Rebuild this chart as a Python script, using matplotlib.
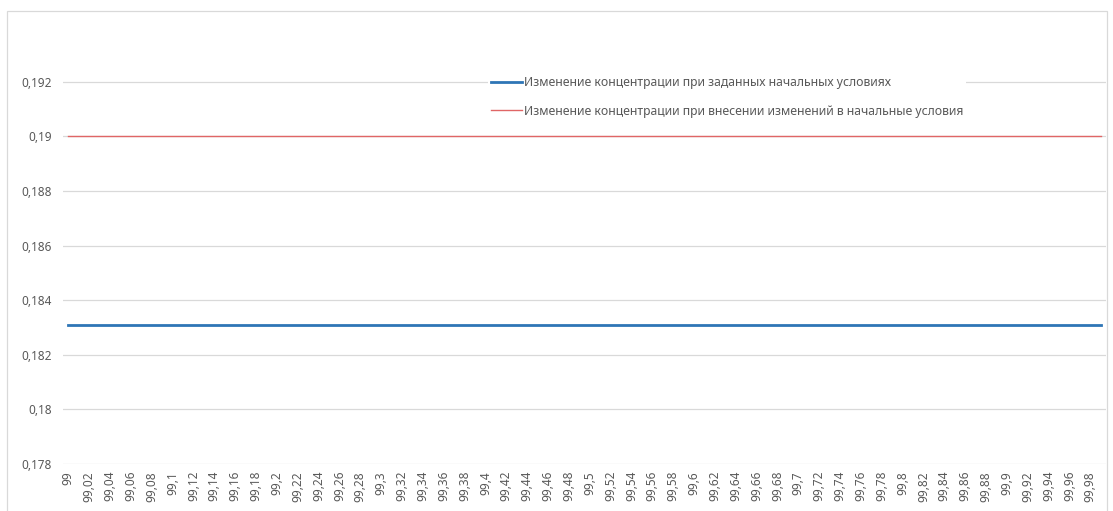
import numpy as np
import matplotlib.pyplot as plt
from matplotlib.patches import Rectangle

# x categories 99,00 ... 99,99 (step 0,01), labels shown every second one
x_vals = [round(99 + i * 0.01, 2) for i in range(100)]
base_conc = [0.18310] * 100      # заданные начальные условия
changed_conc = [0.19000] * 100   # изменения в начальных условиях
series_names = ["Изменение концентрации при заданных начальных условиях",
                "Изменение концентрации при внесении изменений в начальные условия"]
y_ticks = [0.178, 0.18, 0.182, 0.184, 0.186, 0.188, 0.19, 0.192]

plt.rcParams['font.family'] = ['Noto Sans', 'DejaVu Sans']
txt = '#595959'

fig = plt.figure(figsize=(11.13, 5.11), dpi=100)
fig.patches.append(Rectangle((7 / 1113, -0.1), 1100 / 1113, 1.1 - 11 / 511,
                             transform=fig.transFigure, fill=False,
                             edgecolor='#D9D9D9', lw=0.9))
ax = fig.add_axes([63 / 1113, 1 - 464 / 511, 1043 / 1113, 437 / 511])

idx = np.arange(len(x_vals))
ax.plot(idx, base_conc, color='#2E75B6', lw=2.0, label=series_names[0], zorder=3)
ax.plot(idx, changed_conc, color='#E06666', lw=1.0, label=series_names[1], zorder=3)

ax.set_xlim(-0.5, len(x_vals) - 0.5)
ax.set_ylim(0.178, 0.194)
ax.set_yticks(y_ticks)
ax.set_yticklabels([f"{v:g}".replace('.', ',') for v in y_ticks], fontsize=8.5, color=txt)
ax.set_xticks(idx[::2])
ax.set_xticklabels([f"{v:g}".replace('.', ',') for v in x_vals[::2]],
                   rotation=90, fontsize=8.5, color=txt, va='top', ha='center')
ax.tick_params(length=0, pad=8)
ax.tick_params(axis='x', pad=5)
ax.grid(axis='y', color='#D9D9D9', lw=0.9)
ax.set_axisbelow(True)
for s in ax.spines.values():
    s.set_visible(False)

leg = ax.legend(loc='center left', bbox_to_anchor=((488 - 63) / 1043, (464 - 97) / 437),
                frameon=True, fontsize=8.8, handlelength=2.5, handletextpad=0.2,
                labelspacing=1.25, borderpad=0.25, borderaxespad=0, labelcolor=txt)
leg.get_frame().set_edgecolor('none')
leg.get_frame().set_facecolor('white')
leg.get_frame().set_alpha(1)

fig.savefig('out.png', dpi=100)
